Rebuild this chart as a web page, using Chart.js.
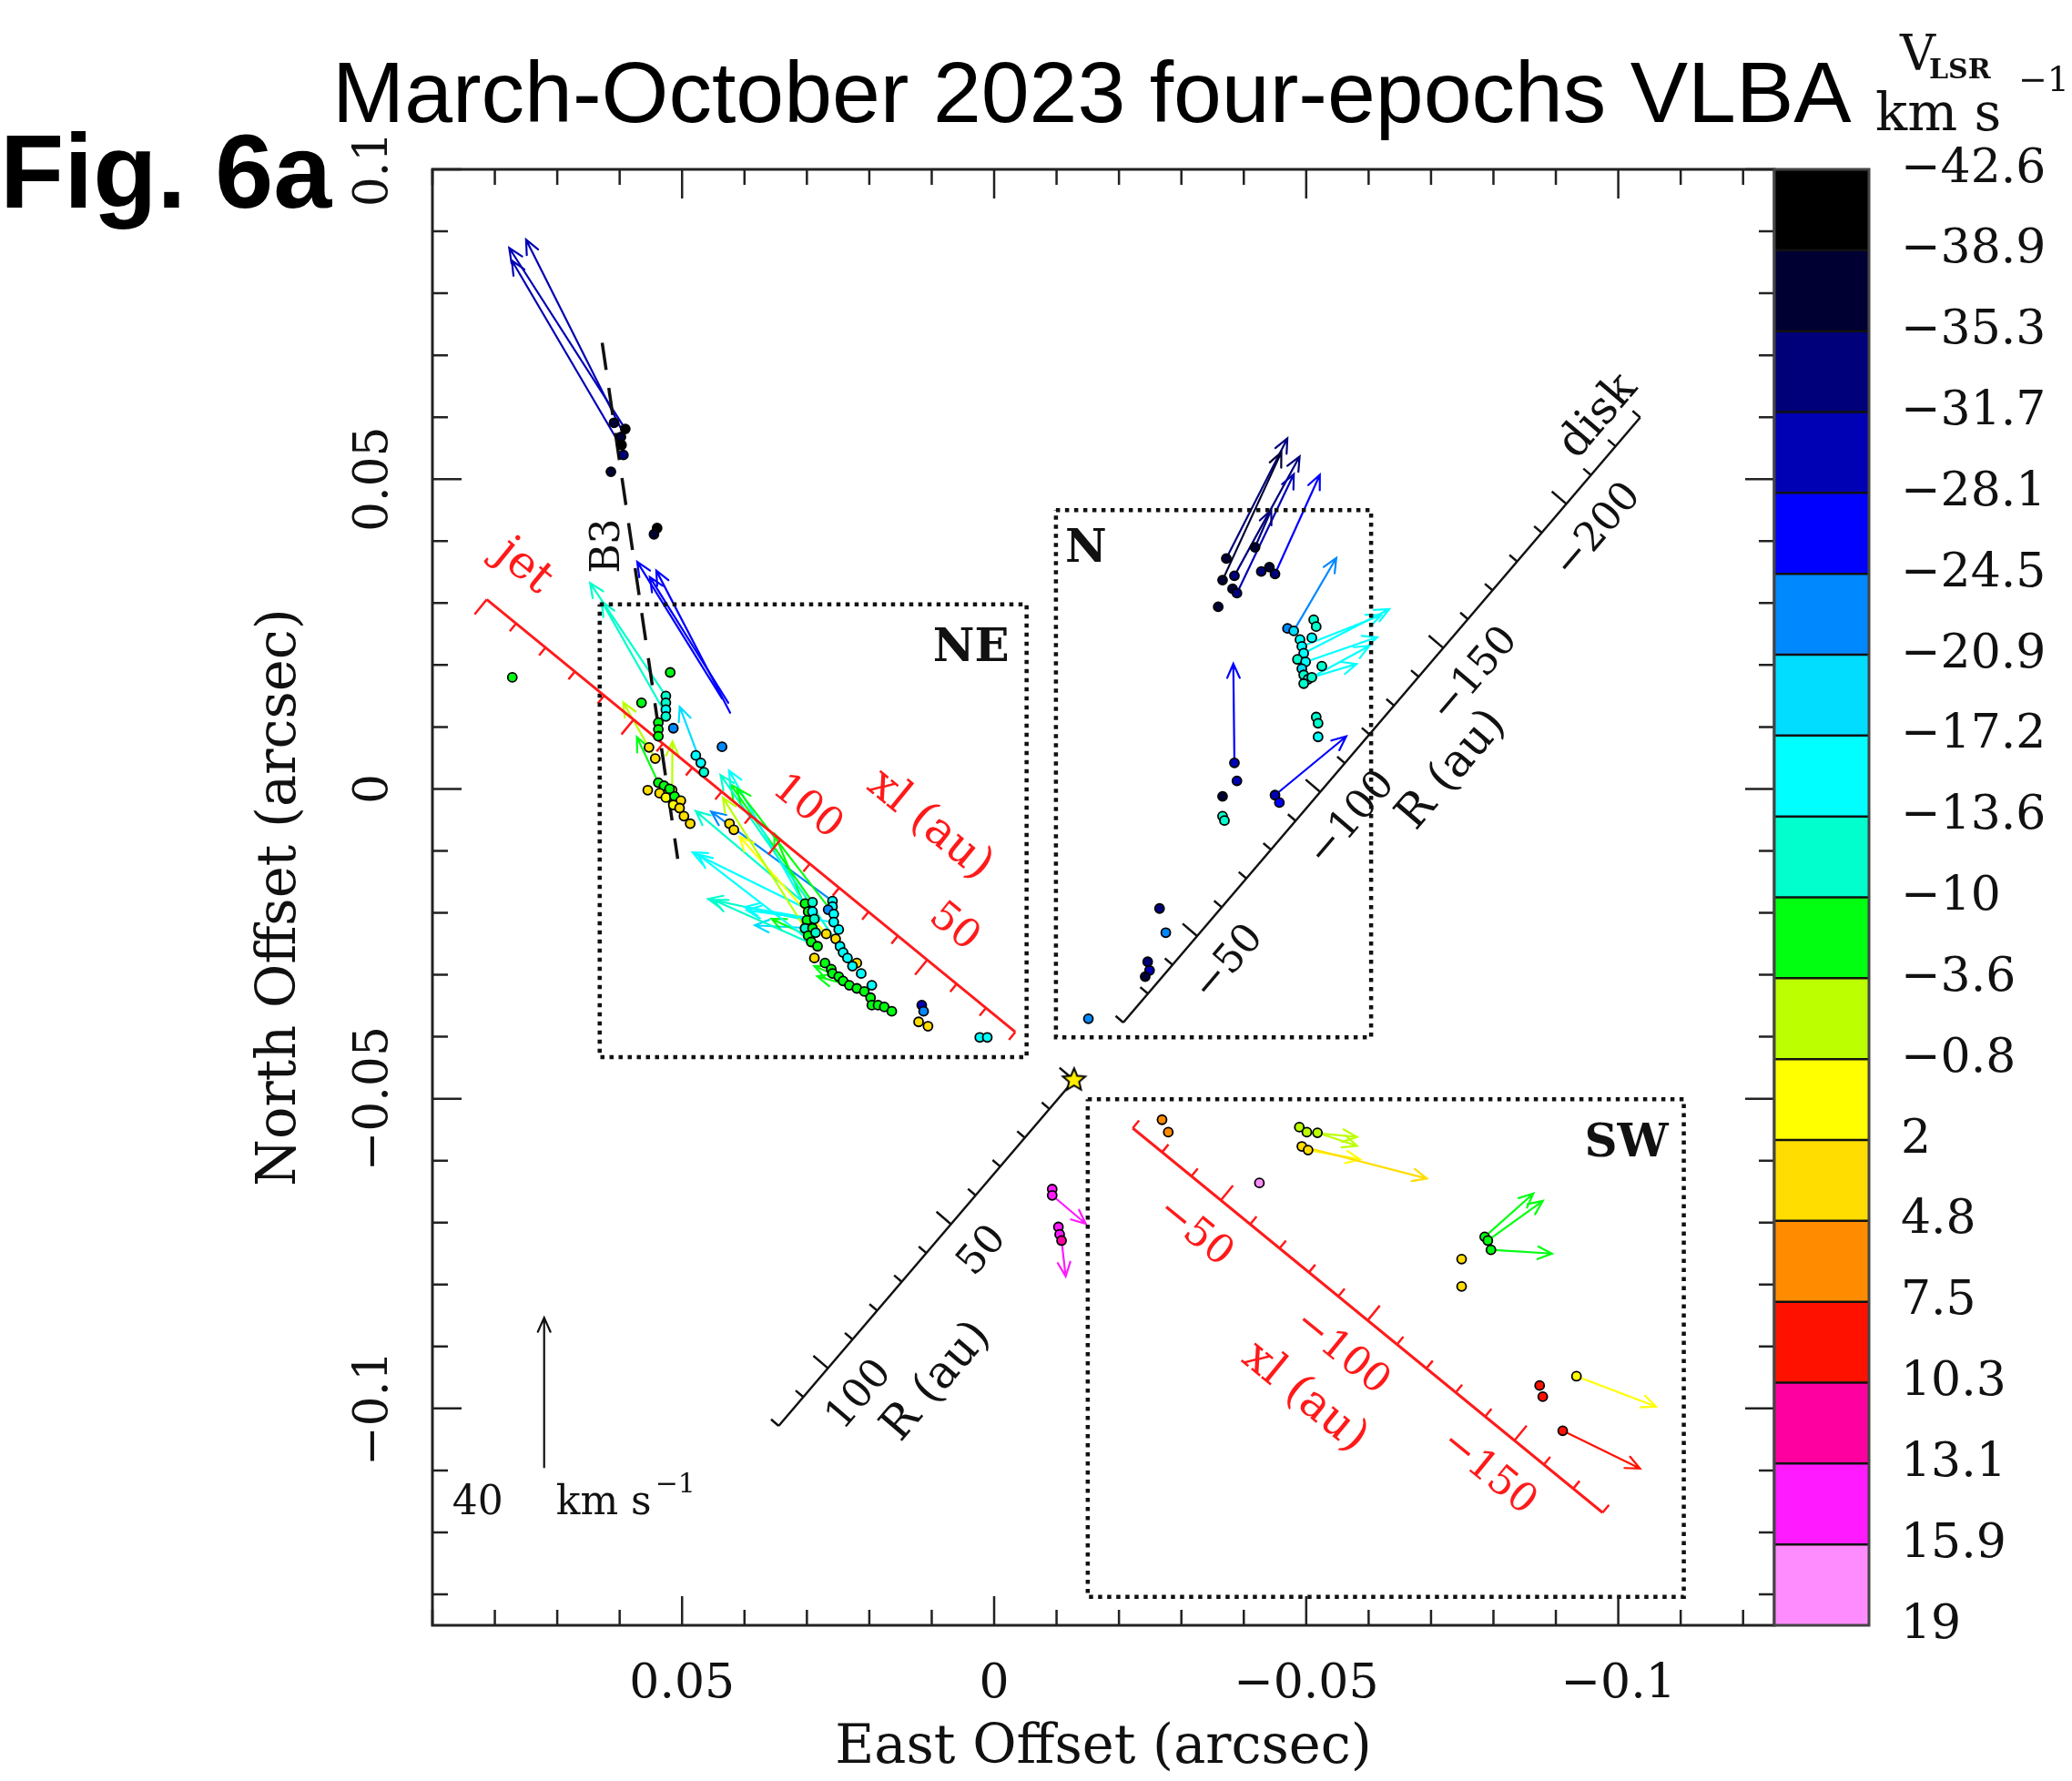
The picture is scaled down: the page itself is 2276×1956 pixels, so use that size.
<!DOCTYPE html>
<html>
<head>
<meta charset="utf-8">
<script src="https://cdn.jsdelivr.net/npm/chart.js@4.4.0/dist/chart.umd.min.js"></script>
<style>
  html, body { margin: 0; padding: 0; background: #fff; }
  canvas { display: block; }
</style>
</head>
<body>
<canvas id="fig" width="2276" height="1956" style="width:2276px;height:1956px"></canvas>
<script>
// ---- colour bar (V_LSR, km/s) ----
const cbEdges = [-42.6, -38.9, -35.3, -31.7, -28.1, -24.5, -20.9, -17.2, -13.6, -10, -3.6, -0.8, 2, 4.8, 7.5, 10.3, 13.1, 15.9, 19];
const cbLabels = ['\u221242.6', '\u221238.9', '\u221235.3', '\u221231.7', '\u221228.1', '\u221224.5', '\u221220.9', '\u221217.2',
  '\u221213.6', '\u221210', '\u22123.6', '\u22120.8', '2', '4.8', '7.5', '10.3', '13.1', '15.9', '19'];
const cbColors = ['#000000', '#000033', '#00007a', '#0000b4', '#0000ff', '#0088ff', '#00ddff', '#00ffff', '#00ffcc',
  '#00ff10', '#bbff00', '#ffff00', '#ffdd00', '#ff8c00', '#ff1100', '#ff00a0', '#ff1aff', '#ff8cff'];

// ---- axes ----
const xTicks = [0.05, 0, -0.05, -0.1];
const xTickLabels = ['0.05', '0', '\u22120.05', '\u22120.1'];
const yTicks = [0.1, 0.05, 0, -0.05, -0.1];
const yTickLabels = ['0.1', '0.05', '0', '\u22120.05', '\u22120.1'];

// ---- maser spots: east offset, north offset (arcsec), V_LSR (km/s) ----
const spotX = [
  0.0609, 0.0591, 0.0598, 0.0597, 0.0594, 0.0614, 0.0540, 0.0545,
  0.0772, 0.0519, 0.0565, 0.0526, 0.0526, 0.0526, 0.0526, 0.0538, 0.0538, 0.0538, 0.0514, 0.0436,
  0.0553, 0.0543, 0.0538, 0.0529, 0.0516, 0.0536, 0.0526, 0.0512, 0.0502, 0.0514, 0.0504, 0.0497, 0.0487, 0.0555, 0.0520,
  0.0478, 0.0470, 0.0465, 0.0424, 0.0417,
  0.0303, 0.0291, 0.0298, 0.0291, 0.0300, 0.0288, 0.0303, 0.0291, 0.0298, 0.0286, 0.0293, 0.0283,
  0.0259, 0.0259, 0.0266, 0.0257, 0.0257, 0.0249,
  0.0269, 0.0254, 0.0220,
  0.0247, 0.0242, 0.0235, 0.0227, 0.0213, 0.0196,
  0.0288, 0.0271, 0.0261, 0.0259, 0.0249, 0.0242, 0.0232, 0.0220, 0.0208, 0.0198, 0.0196, 0.0186, 0.0176, 0.0164,
  0.0116, 0.0113, 0.0121, 0.0106, 0.0023, 0.0011,
  -0.0372, -0.0366, -0.0385, -0.0382, -0.0389, -0.0359, -0.0418, -0.0428, -0.0441, -0.0450,
  -0.0470, -0.0480, -0.0490, -0.0493, -0.0496, -0.0486, -0.0499, -0.0493, -0.0496, -0.0503, -0.0509, -0.0496, -0.0512, -0.0516, -0.0509, -0.0525,
  -0.0516, -0.0519, -0.0519,
  -0.0385, -0.0389, -0.0366, -0.0366, -0.0369, -0.0450, -0.0457,
  -0.0265, -0.0275, -0.0246, -0.0249, -0.0242, -0.0151,
  -0.0269, -0.0279, -0.0425, -0.0489, -0.0501, -0.0518, -0.0493, -0.0503,
  -0.0786, -0.0791, -0.0796, -0.0749, -0.0749, -0.0874, -0.0879, -0.0911, -0.0933,
  -0.0093, -0.0093, -0.0103, -0.0105, -0.0108
];
const spotY = [
  0.0591, 0.0581, 0.0568, 0.0555, 0.0539, 0.0512, 0.0421, 0.0411,
  0.0180, 0.0188, 0.0139, 0.0150, 0.0139, 0.0128, 0.0117, 0.0107, 0.0096, 0.0085, 0.0098, 0.0068,
  0.0067, 0.0049, 0.0010, 0.0005, -0.0002, -0.0007, -0.0014, -0.0012, -0.0019, -0.0026, -0.0031, -0.0044, -0.0056, -0.0002, 0.0000,
  0.0054, 0.0042, 0.0027, -0.0056, -0.0066,
  -0.0185, -0.0183, -0.0198, -0.0198, -0.0212, -0.0210, -0.0225, -0.0225, -0.0237, -0.0232, -0.0247, -0.0254,
  -0.0181, -0.0190, -0.0195, -0.0202, -0.0215, -0.0227,
  -0.0234, -0.0242, -0.0281,
  -0.0254, -0.0264, -0.0273, -0.0286, -0.0298, -0.0317,
  -0.0273, -0.0281, -0.0291, -0.0298, -0.0303, -0.0310, -0.0317, -0.0322, -0.0327, -0.0337, -0.0349, -0.0349, -0.0352, -0.0359,
  -0.0349, -0.0359, -0.0376, -0.0383, -0.0401, -0.0401,
  0.0372, 0.0337, 0.0344, 0.0323, 0.0316, 0.0294, 0.0390, 0.0351, 0.0358, 0.0347,
  0.0259, 0.0255, 0.0241, 0.0230, 0.0219, 0.0209, 0.0205, 0.0194, 0.0184, 0.0177, 0.0180, 0.0170, 0.0273, 0.0262, 0.0244, 0.0198,
  0.0116, 0.0106, 0.0084,
  0.0042, 0.0013, -0.0012, -0.0044, -0.0051, -0.0010, -0.0022,
  -0.0193, -0.0232, -0.0279, -0.0293, -0.0303, -0.0371,
  -0.0534, -0.0554, -0.0636, -0.0546, -0.0554, -0.0555, -0.0577, -0.0583,
  -0.0723, -0.0729, -0.0744, -0.0759, -0.0803, -0.0963, -0.0981, -0.1036, -0.0948,
  -0.0646, -0.0656, -0.0707, -0.0719, -0.0729
];
const spotV = [
  -37, -40, -37, -40, -33, -37, -40, -37,
  -6, -6, -6, -12, -12, -15, -12, -6, -6, -6, -22, -22,
  3, 3, -6, -6, 1, 3, 1, -6, 3, 1, 3, 3, 3, 3, -6,
  -15, -15, -12, 3, 3,
  -6, -12, -6, -15, -6, -12, -12, -6, -6, -12, -6, -6,
  -15, -15, -22, -15, -15, -15,
  3, 3, 3,
  -15, -15, -15, -15, -15, -15,
  3, -6, -6, -6, -6, -6, -6, -6, -6, -6, -6, -6, -6, -6,
  -30, -22, 3, 3, -15, -15,
  -37, -37, -33, -37, -33, -37, -37, -33, -37, -33,
  -22, -19, -15, -15, -15, -12, -15, -19, -12, -15, -12, -12, -12, -12, -15, -12,
  -12, -12, -15,
  -30, -30, -37, -12, -12, -30, -26,
  -33, -22, -33, -30, -37, -22,
  6, 6, 17, -2, -2, -2, 3, 3,
  -6, -6, -6, 4, 4, 9, 9, 9, 1,
  14, 14, 14, 14, 12
];

// ---- proper motions: start (arcsec), velocity east/north (km/s), V_LSR ----
const arrX = [0.0591, 0.0596, 0.0605, 0.0436, 0.0426, 0.0423, 0.0526, 0.0532, 0.0470, 0.0543, 0.0538, 0.0516,
  0.0291, 0.0300, 0.0288, 0.0291, 0.0298, 0.0303, 0.0259, 0.0269, 0.0303, 0.0291, 0.0286, 0.0298, 0.0232,
  0.0247, 0.0257, 0.0293, 0.0283, 0.0257, 0.0249,
  -0.0372, -0.0366, -0.0385, -0.0389, -0.0450, -0.0418, -0.0480, -0.0496, -0.0493, -0.0503, -0.0509, -0.0499,
  -0.0385, -0.0450,
  -0.0518, -0.0501, -0.0503, -0.0493, -0.0786, -0.0791, -0.0796, -0.0911, -0.0933, -0.0093, -0.0108];
const arrY = [0.0581, 0.0578, 0.0565, 0.0146, 0.0139, 0.0123, 0.0150, 0.0131, 0.0042, 0.0049, 0.0010, -0.0002,
  -0.0198, -0.0212, -0.0210, -0.0225, -0.0237, -0.0185, -0.0181, -0.0234, -0.0225, -0.0183, -0.0232, -0.0198, -0.0317,
  -0.0254, -0.0202, -0.0247, -0.0254, -0.0215, -0.0303,
  0.0372, 0.0337, 0.0344, 0.0316, 0.0347, 0.0390, 0.0255, 0.0219, 0.0230, 0.0177, 0.0180, 0.0205,
  0.0042, -0.0010,
  -0.0555, -0.0554, -0.0583, -0.0577, -0.0723, -0.0729, -0.0744, -0.1036, -0.0948, -0.0656, -0.0729];
const arrVx = [30.8, 25.5, 27.8, 22.5, 20.8, 19.6, 20.1, 16.0, 5.6, 8.5, 5.7, -0.1,
  31.8, 26.2, 18.5, 15.3, 9.7, 29.0, 32.2, 23.0, 21.8, 21.8, 10.9, 21.0, 8.5,
  31.7, 25.7, 30.1, 27.7, 23.1, 6.5,
  -16.2, -15.6, -17.3, -15.1, -11.9, -4.3, -11.3, -22.7, -21.0, -16.2, -11.9, -19.0,
  0.3, -18.9,
  -10.5, -13.3, -13.8, -33.2, -12.9, -14.6, -16.2, -20.5, -21.1, -8.9, -1.1];
const arrVy = [48.4, 51.1, 47.7, 36.5, 33.6, 38.0, 30.2, 28.4, 15.0, 15.0, 12.2, 13.0,
  15.8, 5.7, 3.2, 0.8, 4.5, 24.7, 23.9, 26.0, 34.9, 31.6, 26.4, 37.7, 2.4,
  45.8, 33.6, 23.4, 12.4, 3.2, 2.8,
  32.1, 34.2, 31.9, 31.8, 26.5, 10.0, 19.5, 11.8, 8.3, 8.9, 3.6, 6.6,
  26.5, 15.7,
  -3.5, -1.3, -2.5, -8.6, 11.6, 10.6, -1.0, -10.1, -8.1, -7.6, -9.6];
const arrV = [-30, -30, -30, -26, -26, -26, -12, -12, -19, -2, -6, -2,
  -15, -12, -15, -19, -6, -12, -22, 1, -2, -6, -6, -15, -6,
  -12, -6, -15, -12, -15, -6,
  -33, -37, -33, -30, -26, -33, -22, -15, -15, -15, -15, -15,
  -26, -26,
  -2, -2, 1, 3, -6, -6, -6, 9, 1, 14, 14];

// ---- geometry of the reference frame ----
const origin = [-0.0128, -0.0470];      // star (arcsec)
const auPerArcsec = 1640;
const jetPA = 50.5, diskPA = 139.7;     // deg, direction of positive coordinate
const jetNE = [20, 200], jetSW = [-20, -180];
const diskN = [-20, -230], diskS = [0, 120];
const jetNELabels = [100, 50], jetSWLabels = [-50, -100, -150];
const diskNLabels = [-50, -100, -150, -200], diskSLabels = [50, 100];
const boxNE = [0.0632, -0.0052, 0.0298, -0.0433];
const boxN = [-0.0099, -0.0604, 0.0450, -0.0401];
const boxSW = [-0.0150, -0.1105, -0.0501, -0.1304];
const b3Line = [[0.0628, 0.0720], [0.0507, -0.0113]];
const scaleArrow = { x: 0.0721, y: -0.1095, kms: 40, arcsec: 0.02415 };

function velColor(v) {
  for (let i = 0; i < cbColors.length; i++) {
    if (v < cbEdges[i + 1]) return cbColors[i];
  }
  return cbColors[cbColors.length - 1];
}

function axisPoint(pa, r) {
  const a = pa * Math.PI / 180, d = r / auPerArcsec;
  return { x: origin[0] + d * Math.sin(a), y: origin[1] + d * Math.cos(a) };
}

function boxData(b) {
  return [{ x: b[0], y: b[2] }, { x: b[1], y: b[2] }, { x: b[1], y: b[3] }, { x: b[0], y: b[3] }, { x: b[0], y: b[2] }];
}

function starImage(r) {
  const c = document.createElement('canvas');
  const s = Math.ceil(2 * r + 6);
  c.width = c.height = s;
  const g = c.getContext('2d');
  g.translate(s / 2, s / 2);
  g.beginPath();
  for (let i = 0; i < 10; i++) {
    const a = -Math.PI / 2 + i * Math.PI / 5, rr = i % 2 ? r * 0.45 : r;
    g.lineTo(rr * Math.cos(a), rr * Math.sin(a));
  }
  g.closePath();
  g.fillStyle = '#ffee00';
  g.fill();
  g.lineWidth = 2;
  g.strokeStyle = '#000';
  g.stroke();
  return c;
}

function drawText(ctx, str, x, y, font, color, align, base, rot) {
  ctx.save();
  ctx.translate(x, y);
  if (rot) ctx.rotate(rot);
  ctx.font = font;
  ctx.fillStyle = color || '#000';
  ctx.textAlign = align || 'center';
  ctx.textBaseline = base || 'middle';
  ctx.fillText(str, 0, 0);
  ctx.restore();
}

function drawArrow(ctx, x0, y0, x1, y1, color, lw, head) {
  const a = Math.atan2(y1 - y0, x1 - x0), h = 0.42;
  ctx.strokeStyle = color;
  ctx.lineWidth = lw;
  ctx.beginPath();
  ctx.moveTo(x0, y0);
  ctx.lineTo(x1, y1);
  ctx.moveTo(x1 - head * Math.cos(a - h), y1 - head * Math.sin(a - h));
  ctx.lineTo(x1, y1);
  ctx.lineTo(x1 - head * Math.cos(a + h), y1 - head * Math.sin(a + h));
  ctx.stroke();
}

const serif = '"DejaVu Serif", "Liberation Serif", serif';
const red = '#ff1a1a';

const rotAxes = [
  { pa: jetPA, range: jetNE, labels: jetNELabels, color: red, tickSide: -1, labelSide: 1,
    titles: [{ text: 'xl (au)', r: 72, off: 116 }, { text: 'jet', r: 198, off: 53 }] },
  { pa: jetPA, range: jetSW, labels: jetSWLabels, color: red, tickSide: -1, labelSide: 1,
    titles: [{ text: 'xl (au)', r: -100, off: 110 }] },
  { pa: diskPA, range: diskN, labels: diskNLabels, color: '#111', tickSide: -1, labelSide: 1,
    titles: [{ text: 'R (au)', r: -127, off: 95 }, { text: 'disk', r: -223, off: -35 }] },
  { pa: diskPA, range: diskS, labels: diskSLabels, color: '#111', tickSide: 1, labelSide: -1,
    titles: [{ text: 'R (au)', r: 84, off: 101 }] }
];

const notes = [
  { text: 'NE', x: 0.0037, y: 0.0226 },
  { text: 'N', x: -0.0147, y: 0.0386 },
  { text: 'SW', x: -0.1013, y: -0.0574 }
];

const figurePlugin = {
  id: 'figure',
  beforeDatasetsDraw(chart) {
    const ctx = chart.ctx, X = chart.scales.x, Y = chart.scales.y, A = chart.chartArea;
    const k = scaleArrow.arcsec / scaleArrow.kms;
    ctx.save();
    ctx.beginPath();
    ctx.rect(A.left, A.top, A.right - A.left, A.bottom - A.top);
    ctx.clip();
    ctx.lineCap = 'round';
    for (let i = 0; i < arrX.length; i++) {
      const x0 = X.getPixelForValue(arrX[i]), y0 = Y.getPixelForValue(arrY[i]);
      const x1 = X.getPixelForValue(arrX[i] + arrVx[i] * k), y1 = Y.getPixelForValue(arrY[i] + arrVy[i] * k);
      drawArrow(ctx, x0, y0, x1, y1, velColor(arrV[i]), 2.2, 17);
    }
    // velocity scale arrow
    const bx = X.getPixelForValue(scaleArrow.x), by = Y.getPixelForValue(scaleArrow.y);
    const ty = Y.getPixelForValue(scaleArrow.y + scaleArrow.arcsec);
    drawArrow(ctx, bx, by, bx, ty, '#111', 2.2, 17);
    ctx.restore();
    drawText(ctx, String(scaleArrow.kms), bx - 73, by + 40, '44px ' + serif, '#111');
    ctx.font = '44px ' + serif;
    const w = ctx.measureText('km s').width;
    drawText(ctx, 'km s', bx + 13, by + 40, '44px ' + serif, '#111', 'left');
    drawText(ctx, '\u22121', bx + 17 + w, by + 20, '30px ' + serif, '#111', 'left');

    // rotated au axes: ticks and labels
    for (const ax of rotAxes) {
      const pt = r => { const p = axisPoint(ax.pa, r); return [X.getPixelForValue(p.x), Y.getPixelForValue(p.y)]; };
      const p0 = pt(ax.range[0]), p1 = pt(ax.range[1]);
      const L = Math.hypot(p1[0] - p0[0], p1[1] - p0[1]);
      const ux = (p1[0] - p0[0]) / L, uy = (p1[1] - p0[1]) / L;
      const nx = -uy, ny = ux;
      const step = ax.range[1] > ax.range[0] ? 10 : -10;
      ctx.save();
      ctx.strokeStyle = ax.color;
      ctx.lineWidth = 2.5;
      ctx.beginPath();
      for (let r = ax.range[0]; step > 0 ? r <= ax.range[1] : r >= ax.range[1]; r += step) {
        const p = pt(r), len = (r % 50 === 0) ? 21 : 11;
        ctx.moveTo(p[0], p[1]);
        ctx.lineTo(p[0] + nx * ax.tickSide * len, p[1] + ny * ax.tickSide * len);
      }
      ctx.stroke();
      ctx.restore();
      let ang = Math.atan2(uy, ux);
      if (ang > Math.PI / 2) ang -= Math.PI;
      if (ang < -Math.PI / 2) ang += Math.PI;
      for (const r of ax.labels) {
        const p = pt(r), s = r < 0 ? '\u2212' + Math.abs(r) : String(r);
        drawText(ctx, s, p[0] + nx * ax.labelSide * 46, p[1] + ny * ax.labelSide * 46, '44px ' + serif, ax.color, 'center', 'middle', ang);
      }
      for (const t of ax.titles) {
        const p = pt(t.r);
        drawText(ctx, t.text, p[0] + nx * ax.labelSide * t.off, p[1] + ny * ax.labelSide * t.off, '50px ' + serif, ax.color, 'center', 'middle', ang);
      }
    }
  },
  afterDraw(chart) {
    const ctx = chart.ctx, X = chart.scales.x, Y = chart.scales.y, A = chart.chartArea;
    // frame with inward ticks
    ctx.save();
    ctx.strokeStyle = '#222';
    ctx.lineWidth = 3;
    ctx.strokeRect(A.left, A.top, A.right - A.left, A.bottom - A.top);
    ctx.lineWidth = 2.5;
    ctx.beginPath();
    for (let i = -12; i <= 9; i++) {
      const x = X.getPixelForValue(i / 100), len = i % 5 === 0 ? 32 : 17;
      ctx.moveTo(x, A.bottom); ctx.lineTo(x, A.bottom - len);
      ctx.moveTo(x, A.top); ctx.lineTo(x, A.top + len);
    }
    for (let i = -13; i <= 10; i++) {
      const y = Y.getPixelForValue(i / 100), len = i % 5 === 0 ? 32 : 17;
      ctx.moveTo(A.left, y); ctx.lineTo(A.left + len, y);
      ctx.moveTo(A.right, y); ctx.lineTo(A.right - len, y);
    }
    ctx.stroke();
    ctx.restore();

    xTicks.forEach((v, i) => drawText(ctx, xTickLabels[i], X.getPixelForValue(v), A.bottom + 79, '52px ' + serif, '#111', 'center', 'alphabetic'));
    yTicks.forEach((v, i) => drawText(ctx, yTickLabels[i], A.left - 64, Y.getPixelForValue(v), '52px ' + serif, '#111', 'center', 'middle', -Math.PI / 2));
    drawText(ctx, 'East Offset (arcsec)', (A.left + A.right) / 2, A.bottom + 151, '59px ' + serif, '#111', 'center', 'alphabetic');
    drawText(ctx, 'North Offset (arcsec)', A.left - 166, (A.top + A.bottom) / 2, '59px ' + serif, '#111', 'center', 'middle', -Math.PI / 2);

    // box names and B3
    for (const n of notes) {
      drawText(ctx, n.text, X.getPixelForValue(n.x), Y.getPixelForValue(n.y), 'bold 50px ' + serif, '#111');
    }
    drawText(ctx, 'B3', X.getPixelForValue(0.0618), Y.getPixelForValue(0.0392), '44px ' + serif, '#111', 'center', 'middle', -Math.PI / 2);

    // colour bar
    const cbL = A.right, cbW = 104, h = (A.bottom - A.top) / cbColors.length;
    cbColors.forEach((c, i) => { ctx.fillStyle = c; ctx.fillRect(cbL, A.top + i * h, cbW, h); });
    ctx.save();
    ctx.strokeStyle = '#111';
    ctx.lineWidth = 2.5;
    ctx.beginPath();
    for (let i = 1; i < cbColors.length; i++) {
      ctx.moveTo(cbL, A.top + i * h); ctx.lineTo(cbL + cbW, A.top + i * h);
    }
    ctx.stroke();
    ctx.strokeStyle = '#444';
    ctx.lineWidth = 3;
    ctx.strokeRect(cbL, A.top, cbW, A.bottom - A.top);
    ctx.restore();
    cbLabels.forEach((s, i) => drawText(ctx, s, cbL + cbW + 35, A.top + i * h, '52px ' + serif, '#111', 'left', 'middle'));
    drawText(ctx, 'V', 2087, 77, '54px ' + serif, '#111', 'left', 'alphabetic');
    drawText(ctx, 'LSR', 2119, 86, 'bold 30px ' + serif, '#111', 'left', 'alphabetic');
    drawText(ctx, 'km s', 2060, 143, '58px ' + serif, '#111', 'left', 'alphabetic');
    drawText(ctx, '\u22121', 2217, 100, '38px ' + serif, '#111', 'left', 'alphabetic');

    // titles
    drawText(ctx, 'March-October 2023 four-epochs VLBA', 365, 134, '95px "Liberation Sans", Arial, sans-serif', '#000', 'left', 'alphabetic');
    drawText(ctx, 'Fig. 6a', 0, 228, 'bold 115px "Liberation Sans", Arial, sans-serif', '#000', 'left', 'alphabetic');
  }
};

const lineStyle = { showLine: true, pointRadius: 0, fill: false, tension: 0, borderCapStyle: 'butt' };

new Chart(document.getElementById('fig'), {
  type: 'scatter',
  data: {
    datasets: [
      { label: 'star', data: [{ x: origin[0], y: origin[1] }], pointStyle: starImage(13), pointRadius: 13 },
      { label: 'spots', data: spotX.map((x, i) => ({ x: x, y: spotY[i] })),
        pointBackgroundColor: spotV.map(velColor), pointBorderColor: '#000', pointBorderWidth: 1.8, pointRadius: 5 },
      Object.assign({ label: 'jet NE', data: [axisPoint(jetPA, jetNE[0]), axisPoint(jetPA, jetNE[1])], borderColor: red, borderWidth: 3 }, lineStyle),
      Object.assign({ label: 'jet SW', data: [axisPoint(jetPA, jetSW[0]), axisPoint(jetPA, jetSW[1])], borderColor: red, borderWidth: 3 }, lineStyle),
      Object.assign({ label: 'disk N', data: [axisPoint(diskPA, diskN[0]), axisPoint(diskPA, diskN[1])], borderColor: '#111', borderWidth: 2.5 }, lineStyle),
      Object.assign({ label: 'disk S', data: [axisPoint(diskPA, diskS[0]), axisPoint(diskPA, diskS[1])], borderColor: '#111', borderWidth: 2.5 }, lineStyle),
      Object.assign({ label: 'B3', data: b3Line.map(p => ({ x: p[0], y: p[1] })), borderColor: '#111', borderWidth: 3.5, borderDash: [30, 20] }, lineStyle),
      Object.assign({ label: 'NE box', data: boxData(boxNE), borderColor: '#111', borderWidth: 4.5, borderDash: [4.5, 5.5] }, lineStyle),
      Object.assign({ label: 'N box', data: boxData(boxN), borderColor: '#111', borderWidth: 4.5, borderDash: [4.5, 5.5] }, lineStyle),
      Object.assign({ label: 'SW box', data: boxData(boxSW), borderColor: '#111', borderWidth: 4.5, borderDash: [4.5, 5.5] }, lineStyle)
    ]
  },
  options: {
    responsive: false,
    animation: false,
    devicePixelRatio: 1,
    events: [],
    layout: { padding: { left: 475, top: 186, right: 327, bottom: 171 } },
    scales: {
      x: { type: 'linear', display: false, reverse: true, min: -0.125, max: 0.09 },
      y: { type: 'linear', display: false, min: -0.135, max: 0.1 }
    },
    plugins: { legend: { display: false }, tooltip: { enabled: false } }
  },
  plugins: [figurePlugin]
});
</script>
</body>
</html>
